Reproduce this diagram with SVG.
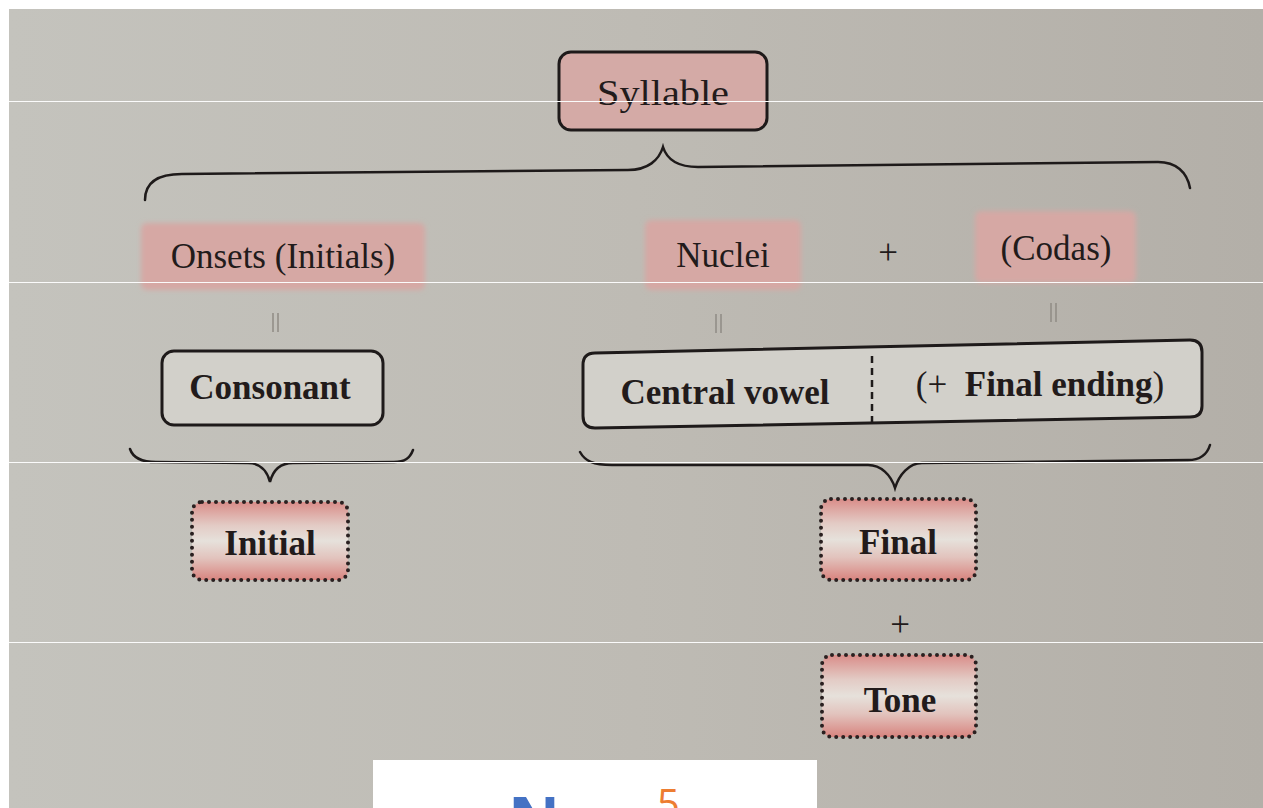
<svg xmlns="http://www.w3.org/2000/svg" width="1263" height="808" viewBox="0 0 1263 808">
<defs>
<linearGradient id="bg" x1="0" y1="0" x2="1" y2="0">
<stop offset="0" stop-color="#c4c3bd"/>
<stop offset="0.5" stop-color="#bebbb4"/>
<stop offset="1" stop-color="#b3afa8"/>
</linearGradient>
<linearGradient id="dotfill" x1="0" y1="0" x2="0" y2="1">
<stop offset="0" stop-color="#d98d89"/>
<stop offset="0.3" stop-color="#e3cbc5"/>
<stop offset="0.5" stop-color="#e6e1db"/>
<stop offset="0.72" stop-color="#e2c3bd"/>
<stop offset="1" stop-color="#d8847f"/>
</linearGradient>
<filter id="soft" x="-10%" y="-20%" width="120%" height="140%">
<feGaussianBlur stdDeviation="2.5"/>
</filter>
</defs>
<style>
.t{font-family:"Liberation Serif","Times New Roman",serif;fill:#221b1b;text-anchor:middle}
.r{font-size:35px}
.b{font-size:35px;font-weight:bold}
.solid{fill:#d2d0ca;stroke:#1e1a1a;stroke-width:3}
.pink{fill:#d6a8a4;filter:url(#soft)}
.dots{fill:url(#dotfill);stroke:#2a2020;stroke-width:4;stroke-linecap:round;stroke-dasharray:0 7}
.brace{fill:none;stroke:#1e1a1a;stroke-width:2.5;stroke-linecap:round}
.eq{stroke:#8f8b85;stroke-width:1.5}
.sep{stroke:#fbfbfb;stroke-width:1.2}
</style>
<rect width="1263" height="808" fill="#ffffff"/>
<rect x="9" y="9" width="1254" height="799" fill="url(#bg)"/>

<g id="syllable">
<rect x="559" y="52" width="208" height="78" rx="12" fill="#d4aaa6" stroke="#1e1a1a" stroke-width="3"/>
<text class="t r" x="663" y="105" font-size="40" textLength="132" lengthAdjust="spacingAndGlyphs">Syllable</text>
</g>

<g id="onsets">
<rect class="pink" x="141" y="223" width="284" height="67" rx="6"/>
<text class="t r" x="283" y="268">Onsets (Initials)</text>
</g>

<g id="nuclei">
<rect class="pink" x="645" y="220" width="156" height="70" rx="6"/>
<text class="t r" x="723" y="267">Nuclei</text>
</g>

<g id="plus1"><text class="t r" x="888" y="264" font-size="32">+</text></g>

<g id="codas">
<rect class="pink" x="975" y="211" width="161" height="72" rx="6"/>
<text class="t r" x="1056" y="260">(Codas)</text>
</g>

<g id="consonant">
<rect class="solid" x="162" y="351" width="221" height="74" rx="12"/>
<text class="t b" x="270" y="399">Consonant</text>
</g>

<g id="rhyme">
<path class="solid" d="M595,353 L1190,340 Q1202,340 1202,352 L1202,406 Q1202,417 1190,417 L595,428 Q583,428 583,416 L583,365 Q583,353 595,353 Z"/>
<line x1="872" y1="356" x2="872" y2="424" stroke="#1e1a1a" stroke-width="2.5" stroke-dasharray="7 5"/>
<text class="t b" x="725" y="404">Central vowel</text>
<text class="t r" x="1040" y="396" xml:space="preserve">(+  <tspan font-weight="bold">Final ending</tspan>)</text>
</g>

<g id="initial">
<rect class="dots" x="192" y="502" width="156" height="78" rx="10"/>
<text class="t b" x="270" y="555">Initial</text>
</g>

<g id="final">
<rect class="dots" x="821" y="499" width="155" height="81" rx="10"/>
<text class="t b" x="898" y="554">Final</text>
</g>

<g id="plus2"><text class="t r" x="900" y="636" font-size="32">+</text></g>

<g id="tone">
<rect class="dots" x="822" y="655" width="154" height="82" rx="10"/>
<text class="t b" x="900" y="712">Tone</text>
</g>

<g id="connectors">
<path class="brace" d="M145,200 C145,184 156,174 182,174 L628,170 C648,170 659,160 663,147 C667,160 678,167 698,167 L1158,162 C1176,162 1187,172 1190,188"/>
<path class="brace" d="M130,449 C133,458 141,462 156,462 L248,463 C259,463 267,470 270,482 C273,470 281,463 293,463 L394,462 C405,462 410,458 413,450"/>
<path class="brace" d="M580,452 C585,461 593,465 612,465 L868,465 C881,465 891,475 895,488 C899,475 909,463 922,463 L1188,460 C1200,460 1207,455 1210,445"/>
<line class="eq" x1="273" y1="313" x2="273" y2="332"/>
<line class="eq" x1="278" y1="313" x2="278" y2="332"/>
<line class="eq" x1="716" y1="314" x2="716" y2="333"/>
<line class="eq" x1="721" y1="314" x2="721" y2="333"/>
<line class="eq" x1="1051" y1="303" x2="1051" y2="322"/>
<line class="eq" x1="1056" y1="303" x2="1056" y2="322"/>
</g>

<g id="scanlines">
<line class="sep" x1="9" y1="101.5" x2="1263" y2="101.5"/>
<line class="sep" x1="9" y1="282.5" x2="1263" y2="282.5"/>
<line class="sep" x1="9" y1="462.5" x2="1263" y2="462.5"/>
<line class="sep" x1="9" y1="642.5" x2="1263" y2="642.5"/>
</g>

<g id="watermark">
<rect x="373" y="760" width="444" height="48" fill="#ffffff"/>
<text x="508" y="843" font-family="'Open Sans','Noto Sans',sans-serif" font-weight="bold" font-size="64" fill="#4472c4">N</text>
<text x="657" y="818" font-family="'Open Sans','Noto Sans',sans-serif" font-size="40" fill="#ed7d31">5</text>
</g>
</svg>
